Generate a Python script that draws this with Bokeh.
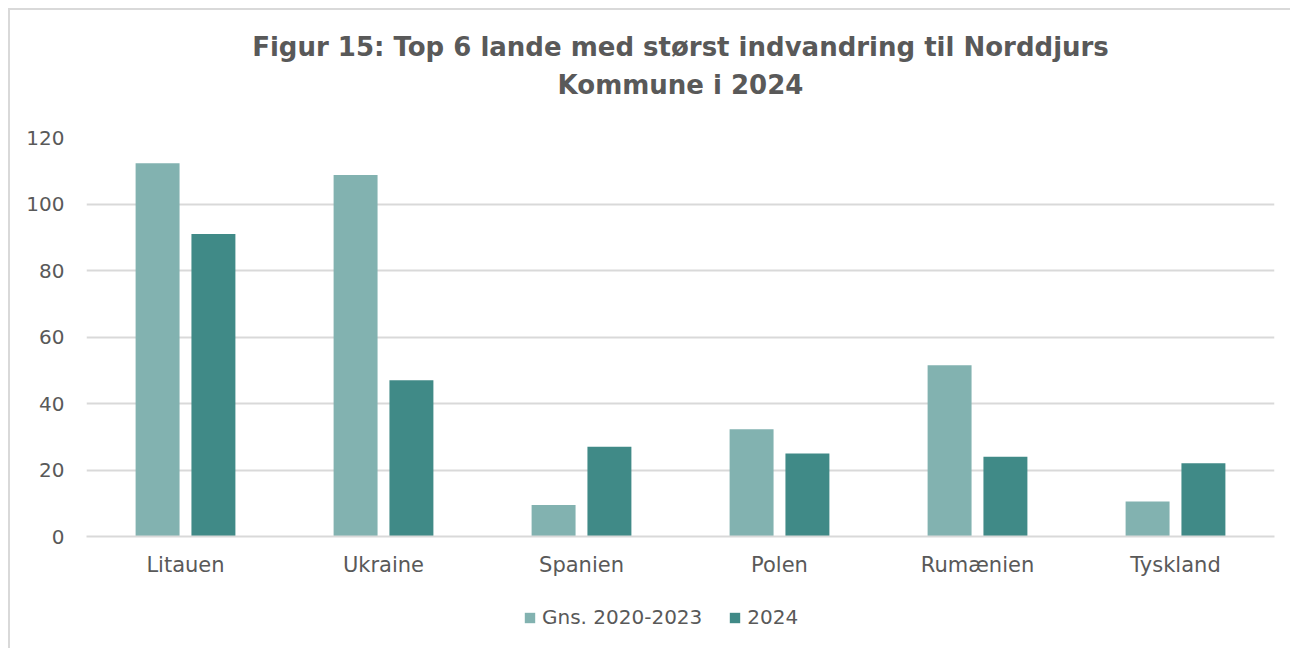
from bokeh.plotting import figure
from bokeh.models import ColumnDataSource, Legend, LegendItem, Title, FactorRange, Range1d
from bokeh.layouts import column
from bokeh.transform import dodge
from bokeh.embed import file_html
from bokeh.resources import INLINE

countries = ["Litauen", "Ukraine", "Spanien", "Polen", "Rumænien", "Tyskland"]
avg_2020_2023 = [112.25, 108.75, 9.5, 32.25, 51.5, 10.5]
val_2024 = [91, 47, 27, 25, 24, 22]
series_names = ["Gns. 2020-2023", "2024"]
y_ticks = [0, 20, 40, 60, 80, 100, 120]
title_lines = ["Figur 15: Top 6 lande med størst indvandring til Norddjurs", "Kommune i 2024"]

FONT = "DejaVu Sans"
TXT = "#595959"
LIGHT = "#82b2b0"
DARK = "#408a87"
GRID = "#d9d9d9"

src = ColumnDataSource(dict(c=countries, a=avg_2020_2023, b=val_2024))

p = figure(x_range=FactorRange(*countries), y_range=(0, 120),
           width=1280, height=580, output_backend="svg", toolbar_location=None,
           min_border_left=76, min_border_right=16, min_border_top=127, min_border_bottom=54)
p.add_layout(Title(text=title_lines[1], align="center", text_font=FONT, text_font_size="26px",
                   text_font_style="bold", text_color=TXT, standoff=0,
                   padding=(0, 0, 0, 38)), "above")
p.add_layout(Title(text=title_lines[0], align="center", text_font=FONT, text_font_size="26px",
                   text_font_style="bold", text_color=TXT, standoff=12), "above")

r1 = p.vbar(x=dodge("c", -0.141, range=p.x_range), top="a", width=0.222, source=src,
            fill_color=LIGHT, line_color=None)
r2 = p.vbar(x=dodge("c", 0.141, range=p.x_range), top="b", width=0.222, source=src,
            fill_color=DARK, line_color=None)

p.x_range.range_padding = 0
p.x_range.group_padding = 0

p.yaxis.ticker = y_ticks
p.yaxis.axis_line_color = None
p.yaxis.major_tick_line_color = None
p.yaxis.minor_tick_line_color = None
p.yaxis.major_label_text_font = FONT
p.yaxis.major_label_text_font_size = "20px"
p.yaxis.major_label_text_color = TXT
p.yaxis.major_label_standoff = 16

p.xaxis.axis_line_color = GRID
p.xaxis.axis_line_width = 2
p.xaxis.major_tick_line_color = None
p.xaxis.minor_tick_line_color = None
p.xaxis.major_label_text_font = FONT
p.xaxis.major_label_text_font_size = "21px"
p.xaxis.major_label_text_color = TXT
p.xaxis.major_label_standoff = 10

p.xgrid.grid_line_color = None
p.ygrid.grid_line_color = GRID
p.ygrid.grid_line_width = 2
p.outline_line_color = None

# legend strip below the chart (same series, renderers out of view)
lg = figure(x_range=p.x_range, y_range=Range1d(1000, 1001), width=1280, height=58,
            output_backend="svg", toolbar_location=None,
            min_border_left=0, min_border_right=0, min_border_top=0, min_border_bottom=0)
lg.axis.visible = False
lg.grid.visible = False
lg.outline_line_color = None
l1 = lg.vbar(x=dodge("c", -0.141, range=lg.x_range), top="a", width=0.222, source=src,
             fill_color=LIGHT, line_color=None)
l2 = lg.vbar(x=dodge("c", 0.141, range=lg.x_range), top="b", width=0.222, source=src,
             fill_color=DARK, line_color=None)
legend = Legend(items=[LegendItem(label=series_names[0], renderers=[l1]),
                       LegendItem(label=series_names[1], renderers=[l2])],
                orientation="horizontal", location=(437, 19),
                label_text_font=FONT, label_text_font_size="20px", label_text_color=TXT,
                glyph_width=13, glyph_height=13, spacing=26, label_standoff=6,
                border_line_color=None, background_fill_alpha=0, padding=0, margin=0)
lg.add_layout(legend, "center")

layout = column(p, lg, spacing=0)
layout.styles = {"border-left": "2px solid #d9d9d9", "border-top": "2px solid #d9d9d9",
                 "margin-left": "8px", "margin-top": "8px"}

open("out.html", "w").write(file_html(layout, INLINE))
